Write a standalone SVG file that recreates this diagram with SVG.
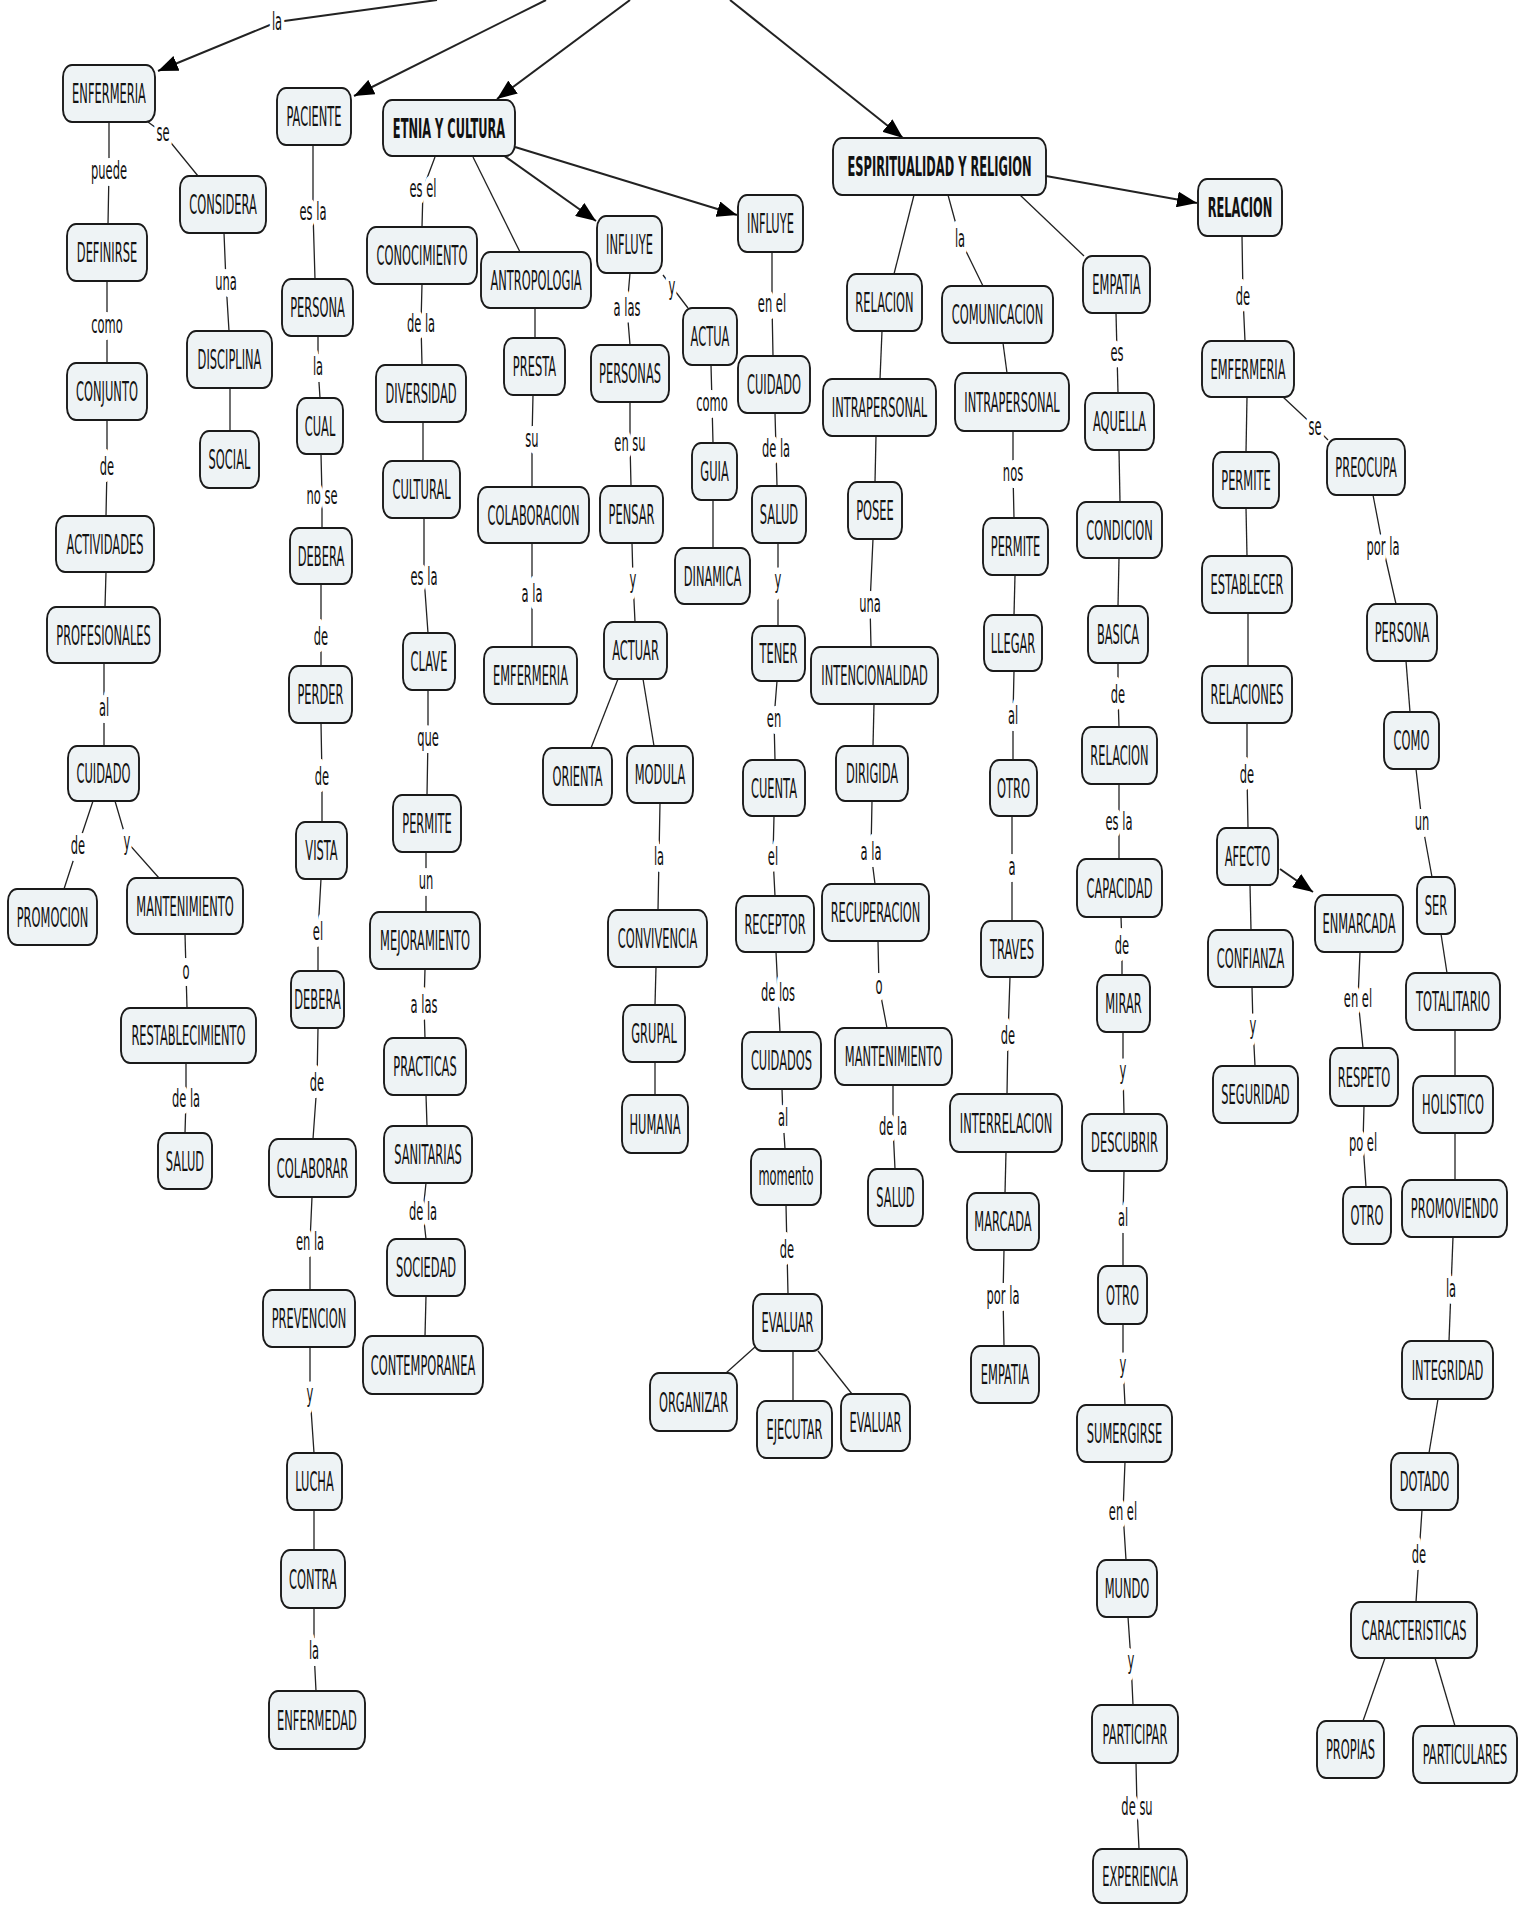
<svg xmlns="http://www.w3.org/2000/svg" width="1530" height="1906" viewBox="0 0 1530 1906">
<style>
.n rect{fill:#eef3f5;stroke:#1a1a1a;stroke-width:1.9}
.n text{font-family:"DejaVu Sans","Liberation Sans",sans-serif;font-size:26px;fill:#111;text-anchor:middle}
.n text.b{font-weight:bold}
#connectors path{fill:none;stroke:#222;stroke-width:1.3}
#connectors path.a{stroke-width:2}
#labels text{font-family:"DejaVu Sans","Liberation Sans",sans-serif;font-size:25px;fill:#111;text-anchor:middle;stroke:#fff;stroke-width:14;stroke-linejoin:round;paint-order:stroke}
</style>
<defs>
<marker id="ah" markerUnits="userSpaceOnUse" markerWidth="22" markerHeight="16" refX="20" refY="8" orient="auto"><path d="M0,0 L20,8 L0,16 z" fill="#000"/></marker>
</defs>
<rect width="1530" height="1906" fill="#fff"/>
<g id="connectors">
<path class="a" d="M437,0 L277,22 L158,71" marker-end="url(#ah)"/>
<path class="a" d="M546,0 L354,96" marker-end="url(#ah)"/>
<path class="a" d="M630,0 L497,99" marker-end="url(#ah)"/>
<path class="a" d="M730,0 L903,138" marker-end="url(#ah)"/>
<path class="a" d="M503,155 L596,221" marker-end="url(#ah)"/>
<path class="a" d="M515,147 L737,215" marker-end="url(#ah)"/>
<path d="M473,157 L520,252"/>
<path d="M435,157 L423,189 L422,227"/>
<path d="M148,122 L163,133 L198,176"/>
<path d="M109,122 L109,171 L108,224"/>
<path d="M107,281 L107,325 L107,363"/>
<path d="M107,420 L107,467 L106,516"/>
<path d="M106,572 L105,607"/>
<path d="M104,663 L104,708 L104,746"/>
<path d="M93,801 L78,846 L64,889"/>
<path d="M115,801 L127,842 L159,878"/>
<path d="M185,934 L186,971 L187,1008"/>
<path d="M186,1063 L186,1099 L185,1133"/>
<path d="M224,233 L226,282 L229,331"/>
<path d="M230,388 L230,431"/>
<path d="M313,145 L313,212 L315,279"/>
<path d="M318,336 L318,367 L320,398"/>
<path d="M321,454 L322,496 L322,528"/>
<path d="M321,584 L321,637 L321,666"/>
<path d="M321,723 L322,777 L322,822"/>
<path d="M321,879 L318,932 L318,971"/>
<path d="M318,1028 L317,1083 L313,1139"/>
<path d="M312,1197 L310,1242 L310,1290"/>
<path d="M310,1347 L310,1394 L314,1453"/>
<path d="M314,1510 L314,1550"/>
<path d="M314,1608 L314,1651 L316,1691"/>
<path d="M422,284 L421,324 L422,365"/>
<path d="M423,422 L423,461"/>
<path d="M424,518 L424,577 L428,633"/>
<path d="M428,690 L428,738 L427,795"/>
<path d="M426,852 L426,881 L426,912"/>
<path d="M425,969 L424,1005 L425,1038"/>
<path d="M426,1095 L427,1126"/>
<path d="M426,1183 L423,1212 L426,1239"/>
<path d="M426,1296 L425,1336"/>
<path d="M535,308 L535,338"/>
<path d="M533,395 L532,439 L532,487"/>
<path d="M532,543 L532,594 L532,647"/>
<path d="M630,273 L627,308 L630,345"/>
<path d="M663,275 L672,287 L688,308"/>
<path d="M630,402 L630,443 L631,486"/>
<path d="M632,543 L633,580 L635,622"/>
<path d="M618,679 L591,748"/>
<path d="M643,679 L654,746"/>
<path d="M660,803 L659,857 L658,910"/>
<path d="M656,967 L655,1005"/>
<path d="M655,1062 L655,1095"/>
<path d="M711,365 L712,403 L713,443"/>
<path d="M713,500 L713,548"/>
<path d="M772,252 L772,304 L773,356"/>
<path d="M775,413 L776,449 L777,486"/>
<path d="M778,543 L778,580 L778,626"/>
<path d="M777,681 L774,719 L775,760"/>
<path d="M774,816 L773,857 L775,896"/>
<path d="M776,952 L778,993 L780,1032"/>
<path d="M782,1089 L783,1118 L785,1149"/>
<path d="M786,1205 L787,1250 L788,1294"/>
<path d="M755,1347 L726,1373"/>
<path d="M793,1351 L793,1401"/>
<path d="M818,1351 L852,1394"/>
<path d="M914,195 L894,274"/>
<path d="M948,195 L960,239 L983,286"/>
<path d="M1020,195 L1084,256"/>
<path class="a" d="M1046,176 L1197,203" marker-end="url(#ah)"/>
<path d="M882,331 L880,379"/>
<path d="M876,436 L875,482"/>
<path d="M873,539 L870,604 L871,647"/>
<path d="M874,704 L873,746"/>
<path d="M872,801 L871,852 L875,884"/>
<path d="M878,941 L879,986 L887,1028"/>
<path d="M893,1085 L893,1127 L895,1169"/>
<path d="M1003,343 L1007,373"/>
<path d="M1013,431 L1013,473 L1014,518"/>
<path d="M1015,575 L1014,615"/>
<path d="M1014,671 L1013,716 L1013,760"/>
<path d="M1012,816 L1012,867 L1012,921"/>
<path d="M1010,977 L1008,1036 L1007,1094"/>
<path d="M1006,1152 L1005,1193"/>
<path d="M1004,1250 L1003,1296 L1004,1346"/>
<path d="M1116,313 L1117,353 L1118,393"/>
<path d="M1119,450 L1120,502"/>
<path d="M1119,558 L1118,606"/>
<path d="M1118,663 L1118,695 L1119,727"/>
<path d="M1119,784 L1119,822 L1119,859"/>
<path d="M1121,917 L1122,946 L1122,975"/>
<path d="M1123,1032 L1123,1071 L1124,1114"/>
<path d="M1124,1171 L1123,1218 L1123,1266"/>
<path d="M1123,1324 L1123,1365 L1125,1405"/>
<path d="M1125,1462 L1123,1512 L1126,1560"/>
<path d="M1128,1617 L1131,1661 L1133,1705"/>
<path d="M1136,1763 L1137,1807 L1139,1849"/>
<path d="M1242,236 L1243,297 L1245,341"/>
<path d="M1247,397 L1246,452"/>
<path d="M1283,397 L1315,427 L1328,440"/>
<path d="M1246,508 L1247,556"/>
<path d="M1248,613 L1248,666"/>
<path d="M1247,723 L1247,775 L1248,828"/>
<path class="a" d="M1280,869 L1313,892" marker-end="url(#ah)"/>
<path d="M1250,885 L1251,930"/>
<path d="M1252,987 L1253,1026 L1255,1066"/>
<path d="M1360,952 L1358,999 L1363,1048"/>
<path d="M1364,1106 L1363,1143 L1366,1187"/>
<path d="M1373,495 L1383,547 L1396,604"/>
<path d="M1406,661 L1410,712"/>
<path d="M1416,769 L1422,822 L1432,877"/>
<path d="M1441,934 L1447,973"/>
<path d="M1455,1030 L1455,1076"/>
<path d="M1455,1133 L1455,1180"/>
<path d="M1453,1237 L1451,1289 L1449,1341"/>
<path d="M1438,1399 L1429,1453"/>
<path d="M1422,1510 L1419,1555 L1416,1602"/>
<path d="M1385,1658 L1363,1721"/>
<path d="M1435,1658 L1455,1726"/>
</g>
<g id="labels">
<text transform="translate(277,30) scale(.46,1)">la</text>
<text transform="translate(163,141) scale(.46,1)">se</text>
<text transform="translate(109,179) scale(.46,1)">puede</text>
<text transform="translate(107,333) scale(.46,1)">como</text>
<text transform="translate(107,475) scale(.46,1)">de</text>
<text transform="translate(104,716) scale(.46,1)">al</text>
<text transform="translate(78,854) scale(.46,1)">de</text>
<text transform="translate(127,850) scale(.46,1)">y</text>
<text transform="translate(186,979) scale(.46,1)">o</text>
<text transform="translate(186,1107) scale(.46,1)">de la</text>
<text transform="translate(226,290) scale(.46,1)">una</text>
<text transform="translate(313,220) scale(.46,1)">es la</text>
<text transform="translate(318,375) scale(.46,1)">la</text>
<text transform="translate(322,504) scale(.46,1)">no se</text>
<text transform="translate(321,645) scale(.46,1)">de</text>
<text transform="translate(322,785) scale(.46,1)">de</text>
<text transform="translate(318,940) scale(.46,1)">el</text>
<text transform="translate(317,1091) scale(.46,1)">de</text>
<text transform="translate(310,1250) scale(.46,1)">en la</text>
<text transform="translate(310,1402) scale(.46,1)">y</text>
<text transform="translate(314,1659) scale(.46,1)">la</text>
<text transform="translate(423,197) scale(.46,1)">es el</text>
<text transform="translate(421,332) scale(.46,1)">de la</text>
<text transform="translate(424,585) scale(.46,1)">es la</text>
<text transform="translate(428,746) scale(.46,1)">que</text>
<text transform="translate(426,889) scale(.46,1)">un</text>
<text transform="translate(424,1013) scale(.46,1)">a las</text>
<text transform="translate(423,1220) scale(.46,1)">de la</text>
<text transform="translate(532,447) scale(.46,1)">su</text>
<text transform="translate(532,602) scale(.46,1)">a la</text>
<text transform="translate(627,316) scale(.46,1)">a las</text>
<text transform="translate(672,295) scale(.46,1)">y</text>
<text transform="translate(630,451) scale(.46,1)">en su</text>
<text transform="translate(633,588) scale(.46,1)">y</text>
<text transform="translate(659,865) scale(.46,1)">la</text>
<text transform="translate(712,411) scale(.46,1)">como</text>
<text transform="translate(772,312) scale(.46,1)">en el</text>
<text transform="translate(776,457) scale(.46,1)">de la</text>
<text transform="translate(778,588) scale(.46,1)">y</text>
<text transform="translate(774,727) scale(.46,1)">en</text>
<text transform="translate(773,865) scale(.46,1)">el</text>
<text transform="translate(778,1001) scale(.46,1)">de los</text>
<text transform="translate(783,1126) scale(.46,1)">al</text>
<text transform="translate(787,1258) scale(.46,1)">de</text>
<text transform="translate(960,247) scale(.46,1)">la</text>
<text transform="translate(870,612) scale(.46,1)">una</text>
<text transform="translate(871,860) scale(.46,1)">a la</text>
<text transform="translate(879,994) scale(.46,1)">o</text>
<text transform="translate(893,1135) scale(.46,1)">de la</text>
<text transform="translate(1013,481) scale(.46,1)">nos</text>
<text transform="translate(1013,724) scale(.46,1)">al</text>
<text transform="translate(1012,875) scale(.46,1)">a</text>
<text transform="translate(1008,1044) scale(.46,1)">de</text>
<text transform="translate(1003,1304) scale(.46,1)">por la</text>
<text transform="translate(1117,361) scale(.46,1)">es</text>
<text transform="translate(1118,703) scale(.46,1)">de</text>
<text transform="translate(1119,830) scale(.46,1)">es la</text>
<text transform="translate(1122,954) scale(.46,1)">de</text>
<text transform="translate(1123,1079) scale(.46,1)">y</text>
<text transform="translate(1123,1226) scale(.46,1)">al</text>
<text transform="translate(1123,1373) scale(.46,1)">y</text>
<text transform="translate(1123,1520) scale(.46,1)">en el</text>
<text transform="translate(1131,1669) scale(.46,1)">y</text>
<text transform="translate(1137,1815) scale(.46,1)">de su</text>
<text transform="translate(1243,305) scale(.46,1)">de</text>
<text transform="translate(1315,435) scale(.46,1)">se</text>
<text transform="translate(1247,783) scale(.46,1)">de</text>
<text transform="translate(1253,1034) scale(.46,1)">y</text>
<text transform="translate(1358,1007) scale(.46,1)">en el</text>
<text transform="translate(1363,1151) scale(.46,1)">po el</text>
<text transform="translate(1383,555) scale(.46,1)">por la</text>
<text transform="translate(1422,830) scale(.46,1)">un</text>
<text transform="translate(1451,1297) scale(.46,1)">la</text>
<text transform="translate(1419,1563) scale(.46,1)">de</text>
</g>
<g id="nodes">
<g id="n1" class="n"><rect x="63" y="65" width="92" height="57" rx="9" ry="12"/><text transform="translate(109,103) scale(.44,1)">ENFERMERIA</text></g>
<g id="n2" class="n"><rect x="180" y="176" width="86" height="57" rx="9" ry="12"/><text transform="translate(223,214) scale(.44,1)">CONSIDERA</text></g>
<g id="n3" class="n"><rect x="67" y="224" width="80" height="57" rx="9" ry="12"/><text transform="translate(107,262) scale(.44,1)">DEFINIRSE</text></g>
<g id="n4" class="n"><rect x="187" y="331" width="85" height="57" rx="9" ry="12"/><text transform="translate(229.5,369) scale(.44,1)">DISCIPLINA</text></g>
<g id="n5" class="n"><rect x="67" y="363" width="80" height="57" rx="9" ry="12"/><text transform="translate(107,401) scale(.44,1)">CONJUNTO</text></g>
<g id="n6" class="n"><rect x="200" y="431" width="59" height="57" rx="9" ry="12"/><text transform="translate(229.5,469) scale(.44,1)">SOCIAL</text></g>
<g id="n7" class="n"><rect x="56" y="516" width="98" height="56" rx="9" ry="12"/><text transform="translate(105,553.5) scale(.44,1)">ACTIVIDADES</text></g>
<g id="n8" class="n"><rect x="47" y="607" width="113" height="56" rx="9" ry="12"/><text transform="translate(103.5,644.5) scale(.44,1)">PROFESIONALES</text></g>
<g id="n9" class="n"><rect x="68" y="746" width="71" height="55" rx="9" ry="12"/><text transform="translate(103.5,783) scale(.44,1)">CUIDADO</text></g>
<g id="n10" class="n"><rect x="8" y="889" width="89" height="56" rx="9" ry="12"/><text transform="translate(52.5,926.5) scale(.44,1)">PROMOCION</text></g>
<g id="n11" class="n"><rect x="127" y="878" width="116" height="56" rx="9" ry="12"/><text transform="translate(185,915.5) scale(.44,1)">MANTENIMIENTO</text></g>
<g id="n12" class="n"><rect x="121" y="1008" width="135" height="55" rx="9" ry="12"/><text transform="translate(188.5,1045) scale(.44,1)">RESTABLECIMIENTO</text></g>
<g id="n13" class="n"><rect x="158" y="1133" width="54" height="56" rx="9" ry="12"/><text transform="translate(185,1170.5) scale(.44,1)">SALUD</text></g>
<g id="n14" class="n"><rect x="277" y="88" width="74" height="57" rx="9" ry="12"/><text transform="translate(314,126) scale(.44,1)">PACIENTE</text></g>
<g id="n15" class="n"><rect x="282" y="279" width="71" height="57" rx="9" ry="12"/><text transform="translate(317.5,317) scale(.44,1)">PERSONA</text></g>
<g id="n16" class="n"><rect x="297" y="398" width="46" height="56" rx="9" ry="12"/><text transform="translate(320,435.5) scale(.44,1)">CUAL</text></g>
<g id="n17" class="n"><rect x="290" y="528" width="62" height="56" rx="9" ry="12"/><text transform="translate(321,565.5) scale(.44,1)">DEBERA</text></g>
<g id="n18" class="n"><rect x="289" y="666" width="63" height="57" rx="9" ry="12"/><text transform="translate(320.5,704) scale(.44,1)">PERDER</text></g>
<g id="n19" class="n"><rect x="296" y="822" width="51" height="57" rx="9" ry="12"/><text transform="translate(321.5,860) scale(.44,1)">VISTA</text></g>
<g id="n20" class="n"><rect x="291" y="971" width="53" height="57" rx="9" ry="12"/><text transform="translate(317.5,1009) scale(.44,1)">DEBERA</text></g>
<g id="n21" class="n"><rect x="269" y="1139" width="87" height="58" rx="9" ry="12"/><text transform="translate(312.5,1177.5) scale(.44,1)">COLABORAR</text></g>
<g id="n22" class="n"><rect x="263" y="1290" width="92" height="57" rx="9" ry="12"/><text transform="translate(309,1328) scale(.44,1)">PREVENCION</text></g>
<g id="n23" class="n"><rect x="287" y="1453" width="55" height="57" rx="9" ry="12"/><text transform="translate(314.5,1491) scale(.44,1)">LUCHA</text></g>
<g id="n24" class="n"><rect x="281" y="1550" width="64" height="58" rx="9" ry="12"/><text transform="translate(313,1588.5) scale(.44,1)">CONTRA</text></g>
<g id="n25" class="n"><rect x="269" y="1691" width="96" height="58" rx="9" ry="12"/><text transform="translate(317,1729.5) scale(.44,1)">ENFERMEDAD</text></g>
<g id="n26" class="n"><rect x="383" y="100" width="132" height="56" rx="9" ry="12"/><text class="b" transform="translate(449,137.5) scale(.44,1)">ETNIA Y CULTURA</text></g>
<g id="n27" class="n"><rect x="367" y="227" width="110" height="57" rx="9" ry="12"/><text transform="translate(422,265) scale(.44,1)">CONOCIMIENTO</text></g>
<g id="n28" class="n"><rect x="376" y="365" width="90" height="57" rx="9" ry="12"/><text transform="translate(421,403) scale(.44,1)">DIVERSIDAD</text></g>
<g id="n29" class="n"><rect x="383" y="461" width="77" height="57" rx="9" ry="12"/><text transform="translate(421.5,499) scale(.44,1)">CULTURAL</text></g>
<g id="n30" class="n"><rect x="403" y="633" width="52" height="57" rx="9" ry="12"/><text transform="translate(429,671) scale(.44,1)">CLAVE</text></g>
<g id="n31" class="n"><rect x="393" y="795" width="68" height="57" rx="9" ry="12"/><text transform="translate(427,833) scale(.44,1)">PERMITE</text></g>
<g id="n32" class="n"><rect x="370" y="912" width="110" height="57" rx="9" ry="12"/><text transform="translate(425,950) scale(.44,1)">MEJORAMIENTO</text></g>
<g id="n33" class="n"><rect x="384" y="1038" width="82" height="57" rx="9" ry="12"/><text transform="translate(425,1076) scale(.44,1)">PRACTICAS</text></g>
<g id="n34" class="n"><rect x="384" y="1126" width="88" height="57" rx="9" ry="12"/><text transform="translate(428,1164) scale(.44,1)">SANITARIAS</text></g>
<g id="n35" class="n"><rect x="387" y="1239" width="78" height="57" rx="9" ry="12"/><text transform="translate(426,1277) scale(.44,1)">SOCIEDAD</text></g>
<g id="n36" class="n"><rect x="363" y="1336" width="120" height="58" rx="9" ry="12"/><text transform="translate(423,1374.5) scale(.44,1)">CONTEMPORANEA</text></g>
<g id="n37" class="n"><rect x="481" y="252" width="110" height="56" rx="9" ry="12"/><text transform="translate(536,289.5) scale(.44,1)">ANTROPOLOGIA</text></g>
<g id="n38" class="n"><rect x="504" y="338" width="61" height="57" rx="9" ry="12"/><text transform="translate(534.5,376) scale(.44,1)">PRESTA</text></g>
<g id="n39" class="n"><rect x="478" y="487" width="111" height="56" rx="9" ry="12"/><text transform="translate(533.5,524.5) scale(.44,1)">COLABORACION</text></g>
<g id="n40" class="n"><rect x="484" y="647" width="93" height="57" rx="9" ry="12"/><text transform="translate(530.5,685) scale(.44,1)">EMFERMERIA</text></g>
<g id="n41" class="n"><rect x="597" y="216" width="65" height="57" rx="9" ry="12"/><text transform="translate(629.5,254) scale(.44,1)">INFLUYE</text></g>
<g id="n42" class="n"><rect x="591" y="345" width="78" height="57" rx="9" ry="12"/><text transform="translate(630,383) scale(.44,1)">PERSONAS</text></g>
<g id="n43" class="n"><rect x="600" y="486" width="63" height="57" rx="9" ry="12"/><text transform="translate(631.5,524) scale(.44,1)">PENSAR</text></g>
<g id="n44" class="n"><rect x="604" y="622" width="63" height="57" rx="9" ry="12"/><text transform="translate(635.5,660) scale(.44,1)">ACTUAR</text></g>
<g id="n45" class="n"><rect x="543" y="748" width="69" height="57" rx="9" ry="12"/><text transform="translate(577.5,786) scale(.44,1)">ORIENTA</text></g>
<g id="n46" class="n"><rect x="627" y="746" width="66" height="57" rx="9" ry="12"/><text transform="translate(660,784) scale(.44,1)">MODULA</text></g>
<g id="n47" class="n"><rect x="608" y="910" width="99" height="57" rx="9" ry="12"/><text transform="translate(657.5,948) scale(.44,1)">CONVIVENCIA</text></g>
<g id="n48" class="n"><rect x="623" y="1005" width="62" height="57" rx="9" ry="12"/><text transform="translate(654,1043) scale(.44,1)">GRUPAL</text></g>
<g id="n49" class="n"><rect x="622" y="1095" width="66" height="58" rx="9" ry="12"/><text transform="translate(655,1133.5) scale(.44,1)">HUMANA</text></g>
<g id="n50" class="n"><rect x="683" y="308" width="54" height="57" rx="9" ry="12"/><text transform="translate(710,346) scale(.44,1)">ACTUA</text></g>
<g id="n51" class="n"><rect x="692" y="443" width="45" height="57" rx="9" ry="12"/><text transform="translate(714.5,481) scale(.44,1)">GUIA</text></g>
<g id="n52" class="n"><rect x="675" y="548" width="75" height="56" rx="9" ry="12"/><text transform="translate(712.5,585.5) scale(.44,1)">DINAMICA</text></g>
<g id="n53" class="n"><rect x="738" y="195" width="65" height="57" rx="9" ry="12"/><text transform="translate(770.5,233) scale(.44,1)">INFLUYE</text></g>
<g id="n54" class="n"><rect x="738" y="356" width="72" height="57" rx="9" ry="12"/><text transform="translate(774,394) scale(.44,1)">CUIDADO</text></g>
<g id="n55" class="n"><rect x="752" y="486" width="54" height="57" rx="9" ry="12"/><text transform="translate(779,524) scale(.44,1)">SALUD</text></g>
<g id="n56" class="n"><rect x="752" y="626" width="53" height="55" rx="9" ry="12"/><text transform="translate(778.5,663) scale(.44,1)">TENER</text></g>
<g id="n57" class="n"><rect x="743" y="760" width="62" height="56" rx="9" ry="12"/><text transform="translate(774,797.5) scale(.44,1)">CUENTA</text></g>
<g id="n58" class="n"><rect x="736" y="896" width="78" height="56" rx="9" ry="12"/><text transform="translate(775,933.5) scale(.44,1)">RECEPTOR</text></g>
<g id="n59" class="n"><rect x="742" y="1032" width="79" height="57" rx="9" ry="12"/><text transform="translate(781.5,1070) scale(.44,1)">CUIDADOS</text></g>
<g id="n60" class="n"><rect x="751" y="1149" width="70" height="56" rx="9" ry="12"/><text transform="translate(786,1184.5) scale(.44,1)">momento</text></g>
<g id="n61" class="n"><rect x="753" y="1294" width="69" height="57" rx="9" ry="12"/><text transform="translate(787.5,1332) scale(.44,1)">EVALUAR</text></g>
<g id="n62" class="n"><rect x="650" y="1373" width="87" height="58" rx="9" ry="12"/><text transform="translate(693.5,1411.5) scale(.44,1)">ORGANIZAR</text></g>
<g id="n63" class="n"><rect x="757" y="1401" width="75" height="57" rx="9" ry="12"/><text transform="translate(794.5,1439) scale(.44,1)">EJECUTAR</text></g>
<g id="n64" class="n"><rect x="841" y="1394" width="69" height="57" rx="9" ry="12"/><text transform="translate(875.5,1432) scale(.44,1)">EVALUAR</text></g>
<g id="n65" class="n"><rect x="833" y="138" width="213" height="57" rx="9" ry="12"/><text class="b" transform="translate(939.5,176) scale(.44,1)">ESPIRITUALIDAD Y RELIGION</text></g>
<g id="n66" class="n"><rect x="847" y="274" width="75" height="57" rx="9" ry="12"/><text transform="translate(884.5,312) scale(.44,1)">RELACION</text></g>
<g id="n67" class="n"><rect x="823" y="379" width="113" height="57" rx="9" ry="12"/><text transform="translate(879.5,417) scale(.44,1)">INTRAPERSONAL</text></g>
<g id="n68" class="n"><rect x="848" y="482" width="54" height="57" rx="9" ry="12"/><text transform="translate(875,520) scale(.44,1)">POSEE</text></g>
<g id="n69" class="n"><rect x="811" y="647" width="127" height="57" rx="9" ry="12"/><text transform="translate(874.5,685) scale(.44,1)">INTENCIONALIDAD</text></g>
<g id="n70" class="n"><rect x="836" y="746" width="72" height="55" rx="9" ry="12"/><text transform="translate(872,783) scale(.44,1)">DIRIGIDA</text></g>
<g id="n71" class="n"><rect x="822" y="884" width="107" height="57" rx="9" ry="12"/><text transform="translate(875.5,922) scale(.44,1)">RECUPERACION</text></g>
<g id="n72" class="n"><rect x="835" y="1028" width="117" height="57" rx="9" ry="12"/><text transform="translate(893.5,1066) scale(.44,1)">MANTENIMIENTO</text></g>
<g id="n73" class="n"><rect x="868" y="1169" width="55" height="57" rx="9" ry="12"/><text transform="translate(895.5,1207) scale(.44,1)">SALUD</text></g>
<g id="n74" class="n"><rect x="942" y="286" width="111" height="57" rx="9" ry="12"/><text transform="translate(997.5,324) scale(.44,1)">COMUNICACION</text></g>
<g id="n75" class="n"><rect x="955" y="373" width="114" height="58" rx="9" ry="12"/><text transform="translate(1012,411.5) scale(.44,1)">INTRAPERSONAL</text></g>
<g id="n76" class="n"><rect x="983" y="518" width="65" height="57" rx="9" ry="12"/><text transform="translate(1015.5,556) scale(.44,1)">PERMITE</text></g>
<g id="n77" class="n"><rect x="984" y="615" width="58" height="56" rx="9" ry="12"/><text transform="translate(1013,652.5) scale(.44,1)">LLEGAR</text></g>
<g id="n78" class="n"><rect x="990" y="760" width="47" height="56" rx="9" ry="12"/><text transform="translate(1013.5,797.5) scale(.44,1)">OTRO</text></g>
<g id="n79" class="n"><rect x="981" y="921" width="62" height="56" rx="9" ry="12"/><text transform="translate(1012,958.5) scale(.44,1)">TRAVES</text></g>
<g id="n80" class="n"><rect x="950" y="1094" width="112" height="58" rx="9" ry="12"/><text transform="translate(1006,1132.5) scale(.44,1)">INTERRELACION</text></g>
<g id="n81" class="n"><rect x="967" y="1193" width="72" height="57" rx="9" ry="12"/><text transform="translate(1003,1231) scale(.44,1)">MARCADA</text></g>
<g id="n82" class="n"><rect x="971" y="1346" width="68" height="57" rx="9" ry="12"/><text transform="translate(1005,1384) scale(.44,1)">EMPATIA</text></g>
<g id="n83" class="n"><rect x="1083" y="256" width="67" height="57" rx="9" ry="12"/><text transform="translate(1116.5,294) scale(.44,1)">EMPATIA</text></g>
<g id="n84" class="n"><rect x="1085" y="393" width="69" height="57" rx="9" ry="12"/><text transform="translate(1119.5,431) scale(.44,1)">AQUELLA</text></g>
<g id="n85" class="n"><rect x="1077" y="502" width="85" height="56" rx="9" ry="12"/><text transform="translate(1119.5,539.5) scale(.44,1)">CONDICION</text></g>
<g id="n86" class="n"><rect x="1088" y="606" width="60" height="57" rx="9" ry="12"/><text transform="translate(1118,644) scale(.44,1)">BASICA</text></g>
<g id="n87" class="n"><rect x="1082" y="727" width="75" height="57" rx="9" ry="12"/><text transform="translate(1119.5,765) scale(.44,1)">RELACION</text></g>
<g id="n88" class="n"><rect x="1077" y="859" width="85" height="58" rx="9" ry="12"/><text transform="translate(1119.5,897.5) scale(.44,1)">CAPACIDAD</text></g>
<g id="n89" class="n"><rect x="1097" y="975" width="53" height="57" rx="9" ry="12"/><text transform="translate(1123.5,1013) scale(.44,1)">MIRAR</text></g>
<g id="n90" class="n"><rect x="1082" y="1114" width="85" height="57" rx="9" ry="12"/><text transform="translate(1124.5,1152) scale(.44,1)">DESCUBRIR</text></g>
<g id="n91" class="n"><rect x="1098" y="1266" width="49" height="58" rx="9" ry="12"/><text transform="translate(1122.5,1304.5) scale(.44,1)">OTRO</text></g>
<g id="n92" class="n"><rect x="1077" y="1405" width="95" height="57" rx="9" ry="12"/><text transform="translate(1124.5,1443) scale(.44,1)">SUMERGIRSE</text></g>
<g id="n93" class="n"><rect x="1097" y="1560" width="60" height="57" rx="9" ry="12"/><text transform="translate(1127,1598) scale(.44,1)">MUNDO</text></g>
<g id="n94" class="n"><rect x="1092" y="1705" width="86" height="58" rx="9" ry="12"/><text transform="translate(1135,1743.5) scale(.44,1)">PARTICIPAR</text></g>
<g id="n95" class="n"><rect x="1093" y="1849" width="94" height="54" rx="9" ry="12"/><text transform="translate(1140,1885.5) scale(.44,1)">EXPERIENCIA</text></g>
<g id="n96" class="n"><rect x="1198" y="179" width="84" height="57" rx="9" ry="12"/><text class="b" transform="translate(1240,217) scale(.44,1)">RELACION</text></g>
<g id="n97" class="n"><rect x="1202" y="341" width="92" height="56" rx="9" ry="12"/><text transform="translate(1248,378.5) scale(.44,1)">EMFERMERIA</text></g>
<g id="n98" class="n"><rect x="1213" y="452" width="66" height="56" rx="9" ry="12"/><text transform="translate(1246,489.5) scale(.44,1)">PERMITE</text></g>
<g id="n99" class="n"><rect x="1202" y="556" width="90" height="57" rx="9" ry="12"/><text transform="translate(1247,594) scale(.44,1)">ESTABLECER</text></g>
<g id="n100" class="n"><rect x="1202" y="666" width="90" height="57" rx="9" ry="12"/><text transform="translate(1247,704) scale(.44,1)">RELACIONES</text></g>
<g id="n101" class="n"><rect x="1217" y="828" width="61" height="57" rx="9" ry="12"/><text transform="translate(1247.5,866) scale(.44,1)">AFECTO</text></g>
<g id="n102" class="n"><rect x="1208" y="930" width="85" height="57" rx="9" ry="12"/><text transform="translate(1250.5,968) scale(.44,1)">CONFIANZA</text></g>
<g id="n103" class="n"><rect x="1213" y="1066" width="85" height="57" rx="9" ry="12"/><text transform="translate(1255.5,1104) scale(.44,1)">SEGURIDAD</text></g>
<g id="n104" class="n"><rect x="1315" y="895" width="88" height="57" rx="9" ry="12"/><text transform="translate(1359,933) scale(.44,1)">ENMARCADA</text></g>
<g id="n105" class="n"><rect x="1330" y="1048" width="68" height="58" rx="9" ry="12"/><text transform="translate(1364,1086.5) scale(.44,1)">RESPETO</text></g>
<g id="n106" class="n"><rect x="1343" y="1187" width="48" height="57" rx="9" ry="12"/><text transform="translate(1367,1225) scale(.44,1)">OTRO</text></g>
<g id="n107" class="n"><rect x="1327" y="439" width="78" height="56" rx="9" ry="12"/><text transform="translate(1366,476.5) scale(.44,1)">PREOCUPA</text></g>
<g id="n108" class="n"><rect x="1367" y="604" width="70" height="57" rx="9" ry="12"/><text transform="translate(1402,642) scale(.44,1)">PERSONA</text></g>
<g id="n109" class="n"><rect x="1384" y="712" width="55" height="57" rx="9" ry="12"/><text transform="translate(1411.5,750) scale(.44,1)">COMO</text></g>
<g id="n110" class="n"><rect x="1417" y="877" width="38" height="57" rx="9" ry="12"/><text transform="translate(1436,915) scale(.44,1)">SER</text></g>
<g id="n111" class="n"><rect x="1406" y="973" width="94" height="57" rx="9" ry="12"/><text transform="translate(1453,1011) scale(.44,1)">TOTALITARIO</text></g>
<g id="n112" class="n"><rect x="1413" y="1076" width="80" height="57" rx="9" ry="12"/><text transform="translate(1453,1114) scale(.44,1)">HOLISTICO</text></g>
<g id="n113" class="n"><rect x="1402" y="1180" width="105" height="57" rx="9" ry="12"/><text transform="translate(1454.5,1218) scale(.44,1)">PROMOVIENDO</text></g>
<g id="n114" class="n"><rect x="1402" y="1341" width="91" height="58" rx="9" ry="12"/><text transform="translate(1447.5,1379.5) scale(.44,1)">INTEGRIDAD</text></g>
<g id="n115" class="n"><rect x="1391" y="1453" width="67" height="57" rx="9" ry="12"/><text transform="translate(1424.5,1491) scale(.44,1)">DOTADO</text></g>
<g id="n116" class="n"><rect x="1351" y="1602" width="126" height="56" rx="9" ry="12"/><text transform="translate(1414,1639.5) scale(.44,1)">CARACTERISTICAS</text></g>
<g id="n117" class="n"><rect x="1317" y="1721" width="67" height="57" rx="9" ry="12"/><text transform="translate(1350.5,1759) scale(.44,1)">PROPIAS</text></g>
<g id="n118" class="n"><rect x="1413" y="1726" width="104" height="57" rx="9" ry="12"/><text transform="translate(1465,1764) scale(.44,1)">PARTICULARES</text></g>
</g>
</svg>
